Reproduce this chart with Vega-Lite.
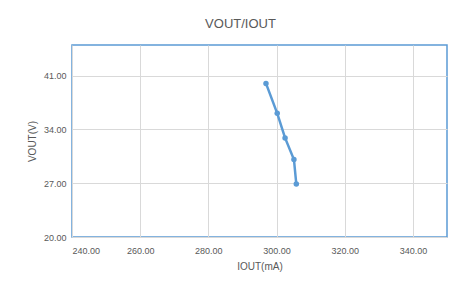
{
  "$schema": "https://vega.github.io/schema/vega-lite/v6.json",
  "autosize": "none",
  "width": 375,
  "height": 192,
  "padding": {"left": 72, "top": 45, "right": 19, "bottom": 48},
  "background": "white",
  "title": {"text": "VOUT/IOUT", "anchor": "middle", "fontSize": 13, "fontWeight": "normal", "color": "#595959", "font": "Liberation Sans", "offset": 14, "dx": -19},
  "data": {"values": [
    {"iout": 296.9, "vout": 40.0},
    {"iout": 300.2, "vout": 36.1},
    {"iout": 302.5, "vout": 32.9},
    {"iout": 305.1, "vout": 30.1},
    {"iout": 305.8, "vout": 26.9}
  ]},
  "mark": {"type": "line", "color": "#5b9bd5", "strokeWidth": 2.5, "point": {"filled": true, "size": 30, "color": "#5b9bd5"}},
  "encoding": {
    "x": {"field": "iout", "type": "quantitative", "scale": {"domain": [240, 350], "nice": false, "zero": false},
      "axis": {"title": "IOUT(mA)", "values": [240, 260, 280, 300, 320, 340], "format": ".2f", "titlePadding": 6}},
    "y": {"field": "vout", "type": "quantitative", "scale": {"domain": [20, 45], "nice": false, "zero": false},
      "axis": {"title": "VOUT(V)", "values": [20, 27, 34, 41], "format": ".2f", "titlePadding": 6}},
    "order": {"field": "vout", "sort": "descending"}
  },
  "config": {
    "view": {"stroke": "#5b9bd5", "strokeWidth": 1.5},
    "axis": {"domain": false, "ticks": false, "gridColor": "#d9d9d9", "gridWidth": 1, "labelColor": "#595959", "titleColor": "#595959", "labelFont": "Liberation Sans", "titleFont": "Liberation Sans", "labelFontSize": 9, "titleFontSize": 10, "titleFontWeight": "normal"},
    "axisX": {"labelPadding": 9},
    "axisY": {"labelPadding": 6}
  }
}
